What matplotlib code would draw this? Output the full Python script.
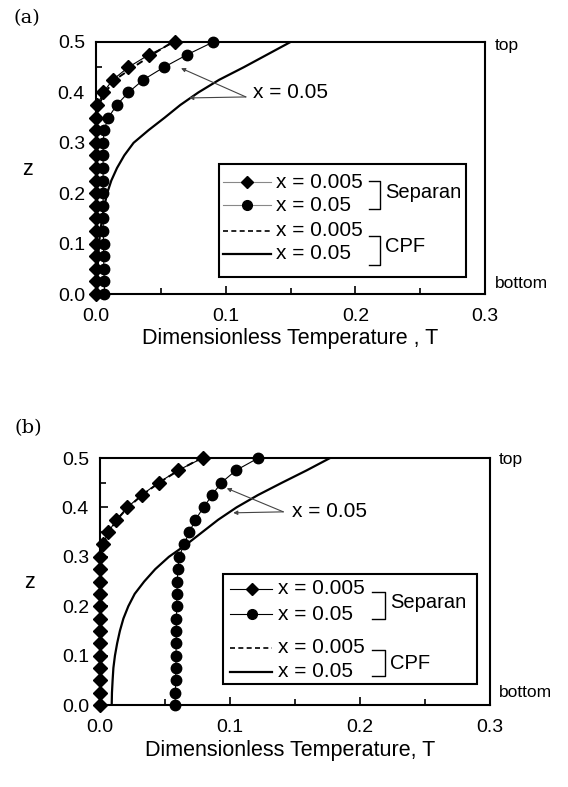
import matplotlib
matplotlib.use("Agg")
import matplotlib.pyplot as plt
from matplotlib.lines import Line2D
from matplotlib.patches import Rectangle

plt.rcParams['font.family'] = ['Liberation Sans', 'DejaVu Sans']

# ---- data ----
z_grid = [0.0, 0.025, 0.05, 0.075, 0.1, 0.125, 0.15, 0.175, 0.2, 0.225, 0.25,
          0.275, 0.3, 0.325, 0.35, 0.375, 0.4, 0.425, 0.45, 0.475, 0.5]

# (a)
a_sep_005 = [0, 0, 0, 0, 0, 0, 0, 0, 0, 0, 0, 0, 0, 0, 0, 0.001, 0.0056, 0.0129, 0.025, 0.041, 0.061]
a_sep_05 = [0.0065, 0.0065, 0.006, 0.006, 0.0058, 0.0056, 0.0055, 0.0055, 0.0055, 0.0055, 0.0055,
            0.0055, 0.0056, 0.0062, 0.0095, 0.016, 0.025, 0.0365, 0.0524, 0.0704, 0.0904]
a_cpf_005 = [0, 0, 0, 0, 0, 0, 0, 0, 0, 0, 0, 0, 0, 0, 0, 0.002, 0.0072, 0.0145, 0.0288, 0.0435, 0.059]
a_cpf_05 = [0.001, 0.001, 0.0013, 0.0017, 0.0024, 0.0033, 0.0048, 0.0065, 0.0086, 0.0118, 0.0162,
            0.0218, 0.029, 0.0405, 0.053, 0.065, 0.079, 0.095, 0.114, 0.132, 0.150]

# (b)
b_sep_005 = [0, 0, 0, 0, 0, 0, 0, 0, 0, 0, 0, 0, 0.0003, 0.002, 0.0065, 0.0125, 0.021, 0.032, 0.045, 0.060, 0.079]
b_sep_05 = [0.0578, 0.058, 0.0582, 0.0584, 0.0585, 0.0586, 0.0587, 0.0588, 0.059, 0.0592, 0.0595,
            0.0598, 0.061, 0.0645, 0.0688, 0.0733, 0.0797, 0.0862, 0.0933, 0.1046, 0.1218]
b_cpf_005 = [0, 0, 0, 0, 0, 0, 0, 0, 0, 0, 0, 0, 0.0005, 0.0025, 0.007, 0.013, 0.0215, 0.0325, 0.0455, 0.0605, 0.078]
b_cpf_05 = [0.009, 0.0092, 0.0097, 0.0103, 0.0115, 0.0132, 0.0153, 0.018, 0.0218, 0.0267, 0.034,
            0.0425, 0.053, 0.0665, 0.0787, 0.0909, 0.105, 0.1215, 0.140, 0.159, 0.177]

xticks = [0.0, 0.1, 0.2, 0.3]
yticks = [0.0, 0.1, 0.2, 0.3, 0.4, 0.5]
legend_labels = ['x = 0.005', 'x = 0.05', 'x = 0.005', 'x = 0.05']

fig = plt.figure(figsize=(5.68, 7.87), dpi=100)
W, H = 568, 787

MS_D = 6.8
MS_O = 7.5


def make_axes(l, r, t, b):
    return fig.add_axes([l / W, 1 - b / H, (r - l) / W, (b - t) / H])


def style(ax, xlabel):
    ax.set_xlim(0, 0.3)
    ax.set_ylim(0, 0.5)
    ax.set_xticks(xticks)
    ax.set_yticks(yticks)
    ax.set_xticks([0.05, 0.15, 0.25], minor=True)
    ax.set_yticks([0.05, 0.15, 0.25, 0.35, 0.45], minor=True)
    ax.set_xticklabels(['%.1f' % v for v in xticks])
    ax.set_yticklabels(['%.1f' % v for v in yticks])
    ax.tick_params(which='both', direction='in', labelsize=14, width=1.2)
    ax.tick_params(axis='x', pad=10)
    ax.tick_params(axis='y', pad=8)
    ax.tick_params(which='major', length=6)
    ax.tick_params(which='minor', length=4)
    for s in ax.spines.values():
        s.set_linewidth(1.5)
    ax.set_xlabel(xlabel, fontsize=15.5)
    ax.set_ylabel('z', fontsize=15.5, rotation=0)


def draw_panel(ax, s005, s05, c005, c05):
    ax.plot(s005, z_grid, color='black', lw=0.8, marker='D', ms=MS_D, clip_on=False, zorder=4)
    ax.plot(s05, z_grid, color='black', lw=0.8, marker='o', ms=MS_O, clip_on=False, zorder=4)
    ax.plot(c005, z_grid, color='black', lw=1.4, ls=(0, (3.5, 2)), zorder=3)
    ax.plot(c05, z_grid, color='black', lw=1.6, zorder=3)


def draw_legend(ax, box, rows, hx, mx, tx, brx, sep_br, cpf_br, sep_ty, cpf_ty, sep_color):
    tr = ax.transAxes
    ax.add_patch(Rectangle((box[0], box[2]), box[1] - box[0], box[3] - box[2],
                           transform=tr, fill=False, lw=1.5, ec='black', zorder=5))
    styles = [dict(color=sep_color, lw=0.8), dict(color=sep_color, lw=0.8),
              dict(color='black', lw=1.2, ls=(0, (3, 2))), dict(color='black', lw=1.6)]
    markers = ['D', 'o', None, None]
    for y, st, mk, lab in zip(rows, styles, markers, legend_labels):
        ax.add_line(Line2D(hx, [y, y], transform=tr, zorder=6, **st))
        if mk:
            ax.add_line(Line2D([mx], [y], transform=tr, marker=mk,
                               ms=MS_O - 0.5 if mk == 'o' else MS_D - 0.5,
                               color='black', ls='none', zorder=7))
        ax.text(tx, y, lab, transform=tr, fontsize=15, va='center', ha='left', zorder=6)
    for (y0, y1), ty, name in [(sep_br, sep_ty, 'Separan'), (cpf_br, cpf_ty, 'CPF')]:
        ax.add_line(Line2D([brx[0], brx[1], brx[1], brx[0]], [y0, y0, y1, y1],
                           transform=tr, color='black', lw=1.0, zorder=6))
        ax.text(brx[1] + 0.013, ty, name, transform=tr, fontsize=14.5, va='center', ha='left')


arrow = dict(arrowstyle='-|>', color='#444444', lw=0.8, mutation_scale=6, shrinkA=0, shrinkB=0)

# ---------------- panel (a) ----------------
ax1 = make_axes(96, 485, 42, 294)
draw_panel(ax1, a_sep_005, a_sep_05, a_cpf_005, a_cpf_05)
style(ax1, 'Dimensionless Temperature , T')
ax1.xaxis.set_label_coords(0.499, -0.135)
ax1.yaxis.set_label_coords(-0.175, 0.454)
draw_legend(ax1, (0.316, 0.951, 0.0675, 0.516), [0.444, 0.353, 0.250, 0.159],
            [0.326, 0.450], 0.388, 0.463, [0.702, 0.730],
            (0.448, 0.337), (0.230, 0.115), 0.401, 0.187, '#888888')
ax1.annotate('', xy=(0.0656, 0.448), xytext=(0.1156, 0.391), arrowprops=arrow)
ax1.annotate('', xy=(0.0719, 0.389), xytext=(0.1156, 0.391), arrowprops=arrow)
ax1.text(0.121, 0.399, 'x = 0.05', fontsize=15, va='center', ha='left')
ax1.text(1.026, 0.988, 'top', transform=ax1.transAxes, fontsize=12.5, va='center')
ax1.text(1.026, 0.04, 'bottom', transform=ax1.transAxes, fontsize=12.5, va='center')
fig.text(27 / W, 1 - 18 / H, '(a)', family='DejaVu Serif', fontsize=14, va='center', ha='center')

# ---------------- panel (b) ----------------
ax2 = make_axes(100, 490, 458, 705)
draw_panel(ax2, b_sep_005, b_sep_05, b_cpf_005, b_cpf_05)
style(ax2, 'Dimensionless Temperature, T')
ax2.xaxis.set_label_coords(0.487, -0.142)
ax2.yaxis.set_label_coords(-0.182, 0.454)
draw_legend(ax2, (0.315, 0.967, 0.085, 0.530), [0.470, 0.368, 0.231, 0.134],
            [0.333, 0.441], 0.390, 0.456, [0.697, 0.731],
            (0.457, 0.348), (0.223, 0.117), 0.413, 0.170, 'black')
ax2.annotate('', xy=(0.0975, 0.4387), xytext=(0.141, 0.391), arrowprops=arrow)
ax2.annotate('', xy=(0.1025, 0.389), xytext=(0.141, 0.391), arrowprops=arrow)
ax2.text(0.1475, 0.391, 'x = 0.05', fontsize=15, va='center', ha='left')
ax2.text(1.023, 0.992, 'top', transform=ax2.transAxes, fontsize=12.5, va='center')
ax2.text(1.023, 0.049, 'bottom', transform=ax2.transAxes, fontsize=12.5, va='center')
fig.text(28 / W, 1 - 428 / H, '(b)', family='DejaVu Serif', fontsize=14, va='center', ha='center')

fig.savefig('out.png', dpi=100)
